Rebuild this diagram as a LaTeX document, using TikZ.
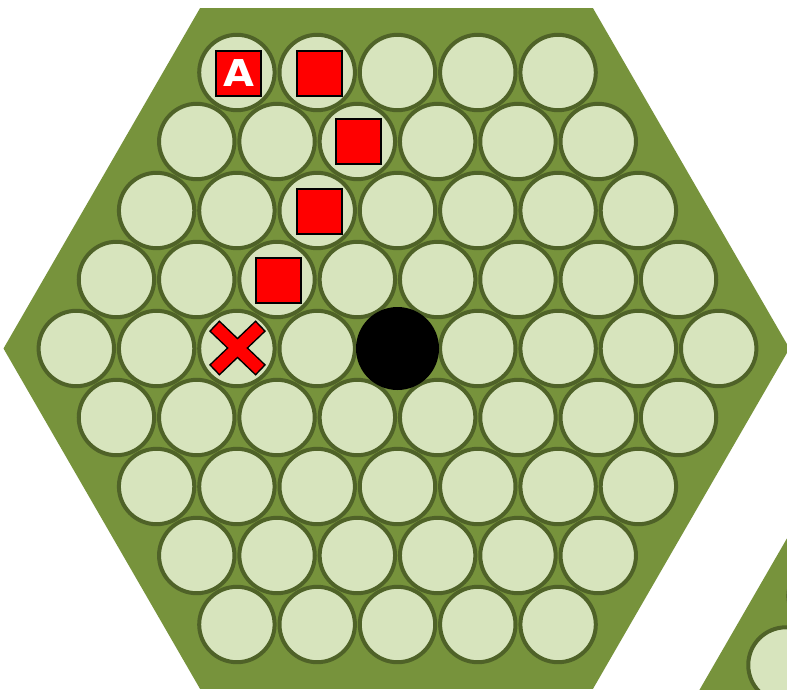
\documentclass[tikz,border=0pt]{standalone}
\usepackage{fontspec}
\newfontfamily\piecefont{DejaVu Sans}
\definecolor{boardgreen}{HTML}{77933C}
\definecolor{cellfill}{HTML}{D7E4BD}
\definecolor{celledge}{HTML}{4F6228}
\definecolor{piecered}{HTML}{FF0000}
\tikzset{
  cell/.style={circle, minimum size=75.4pt, inner sep=0pt, fill=cellfill, draw=celledge, line width=4pt},
  piece/.style={rectangle, minimum size=45pt, inner sep=0pt, fill=piecered, draw=black, line width=2pt,
    text=white, font=\piecefont\bfseries\fontsize{37}{37}\selectfont},
  stone/.style={circle, minimum size=83pt, inner sep=0pt, fill=black},
  crossout/.style={draw=black, line width=15pt, line cap=butt},
  crossin/.style={draw=piecered, line width=12pt, line cap=butt},
  board/.style={fill=boardgreen}
}
\begin{document}
\begin{tikzpicture}[x=1pt,y=-1pt]
\clip (0,0) rectangle (787,689);
\fill[white] (0,0) rectangle (787,689);
% main board
\def\R{393}\def\r{340.3}
\fill[board] (396.5-\R,348.5) -- (396.5-\R/2,348.5-\r) -- (396.5+\R/2,348.5-\r)
  -- (396.5+\R,348.5) -- (396.5+\R/2,348.5+\r) -- (396.5-\R/2,348.5+\r) -- cycle;
\foreach \i in {1,...,9}{
  \pgfmathtruncatemacro\n{9-abs(\i-5)}
  \foreach \j in {1,...,\n}{
    \node[cell] (c-\i-\j) at ({397.5+(\j-(\n+1)/2)*80.3},{348.5+(\i-5)*69}) {};
  }
}
% neighbouring board (partly visible)
\fill[board] (1067-\R,734) -- (1067-\R/2,734-\r) -- (1067+\R/2,734-\r)
  -- (1067+\R,734) -- (1067+\R/2,734+\r) -- (1067-\R/2,734+\r) -- cycle;
\foreach \i in {1,...,5}{
  \pgfmathtruncatemacro\n{9-abs(\i-5)}
  \foreach \j in {1,...,\n}{
    \node[cell] (d-\i-\j) at ({1067+(\j-(\n+1)/2)*80.3},{734+(\i-5)*69}) {};
  }
}
% pieces
\node[piece] (pa) at ([xshift=1.6pt,yshift=-0.5pt]c-1-1) {\scalebox{1.08}[1]{A}};
\node[piece] (pb) at ([xshift=2pt,yshift=-1pt]c-1-2) {};
\node[piece] (pc) at ([xshift=1pt]c-2-3) {};
\node[piece] (pd) at ([xshift=2pt,yshift=-1pt]c-3-3) {};
\node[piece] (pe) at ([xshift=1.5pt,yshift=-0.5pt]c-4-3) {};
\node[stone] (st) at (c-5-5) {};
% cross
\coordinate (x0) at ([xshift=0.6pt,yshift=0.5pt]c-5-3);
\draw[crossout] ([shift={(-23.3,-22.3)}]x0) -- ([shift={(23.3,22.3)}]x0);
\draw[crossout] ([shift={(-23.3,22.3)}]x0) -- ([shift={(23.3,-22.3)}]x0);
\draw[crossin] ([shift={(-22.2,-21.2)}]x0) -- ([shift={(22.2,21.2)}]x0);
\draw[crossin] ([shift={(-22.2,21.2)}]x0) -- ([shift={(22.2,-21.2)}]x0);
\end{tikzpicture}
\end{document}
